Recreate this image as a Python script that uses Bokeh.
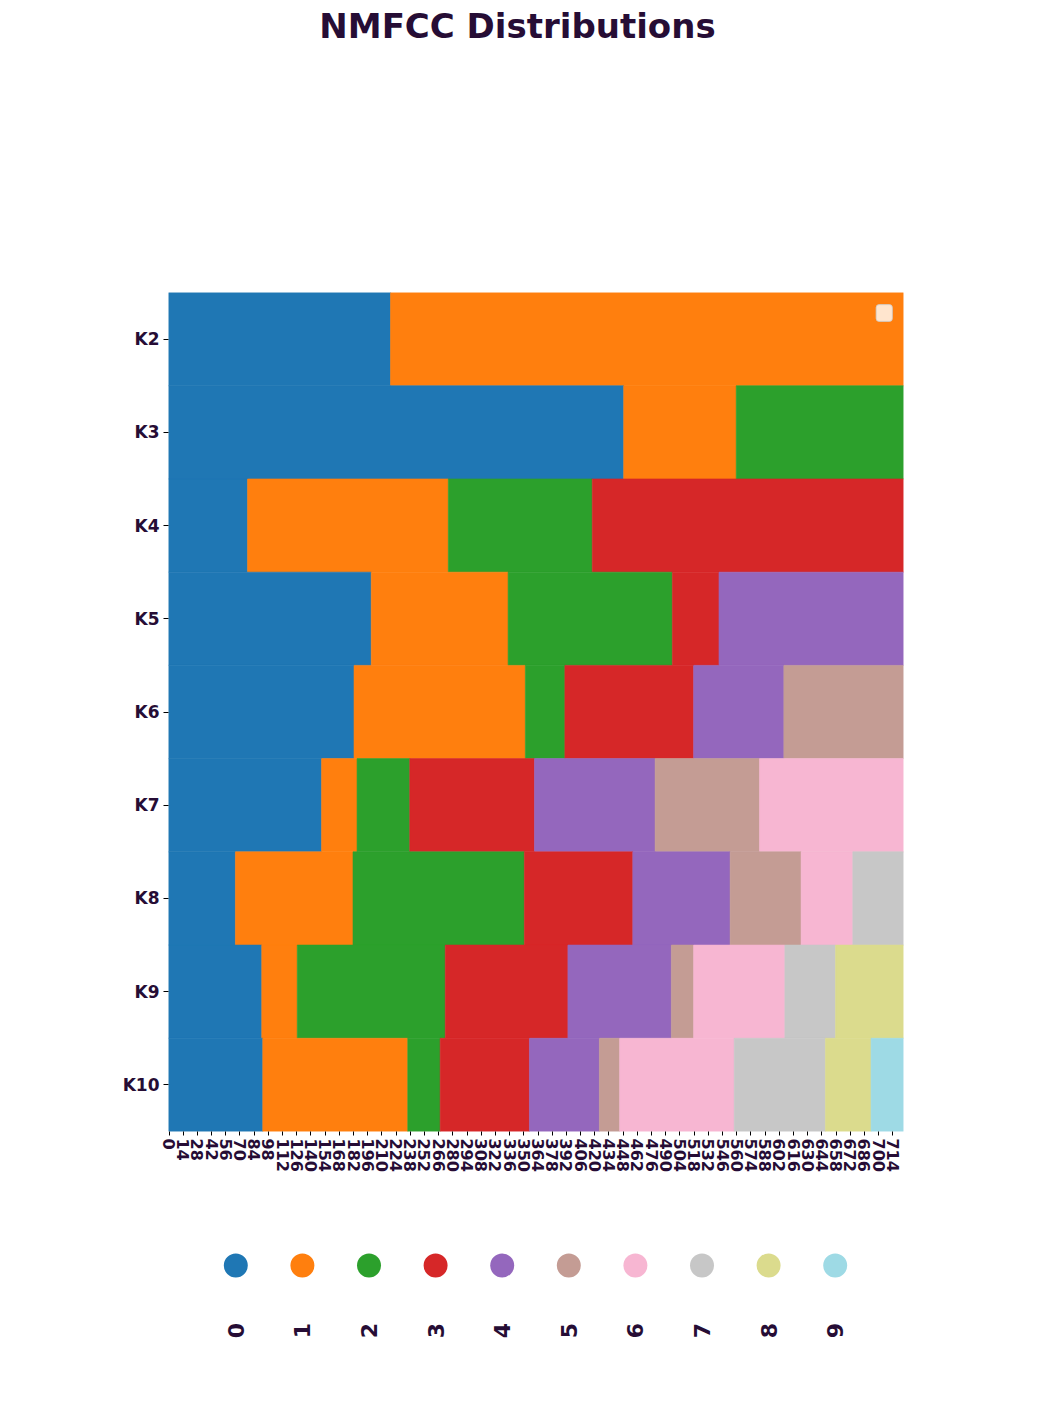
import math
from bokeh.plotting import figure
from bokeh.models import Range1d, FixedTicker, BoxAnnotation, ColumnDataSource
from bokeh.layouts import column
from bokeh.embed import file_html
from bokeh.resources import INLINE
from bokeh.core.properties import value

# ---------------- data ----------------
rows = ["K2", "K3", "K4", "K5", "K6", "K7", "K8", "K9", "K10"]
cluster_ids = [0, 1, 2, 3, 4, 5, 6, 7, 8, 9]
cluster_colors = ["#1f77b4", "#ff7f0e", "#2ca02c", "#d62728", "#9467bd",
                  "#c49c94", "#f7b6d2", "#c7c7c7", "#dbdb8d", "#9edae5"]

# number of samples in each cluster (samples sorted by cluster label)
counts_K2 = [219, 506]
counts_K3 = [449, 111, 165]
counts_K4 = [78, 198, 142, 307]
counts_K5 = [200, 135, 162, 46, 182]
counts_K6 = [183, 169, 39, 127, 89, 118]
counts_K7 = [151, 35, 52, 123, 119, 103, 142]
counts_K8 = [66, 116, 169, 107, 96, 70, 51, 50]
counts_K9 = [92, 35, 146, 121, 102, 22, 90, 50, 67]
counts_K10 = [93, 143, 32, 88, 69, 20, 113, 90, 45, 32]

x_tick_labels = list(range(0, 715, 14))

counts_by_row = [counts_K2, counts_K3, counts_K4, counts_K5, counts_K6,
                 counts_K7, counts_K8, counts_K9, counts_K10]

TEXT = "#260d35"
FONT = "DejaVu Sans"
N = sum(counts_K2)
nrows = len(rows)

BL, BR = 168, 147          # left / right borders (px) shared by all panels
FRAME_W = 1050 - BL - BR

# ---------------- title panel ----------------
p0 = figure(width=1050, height=60, x_range=Range1d(0, 1), y_range=Range1d(0, 1),
            output_backend="svg", toolbar_location=None,
            min_border_left=BL, min_border_right=BR, min_border_top=0, min_border_bottom=0)
p0.axis.visible = False
p0.grid.visible = False
p0.outline_line_color = None
TITLE_CX = 517
p0.text(x=[(TITLE_CX - BL) / FRAME_W], y=[1 - 25 / 60], text=["NMFCC Distributions"],
        text_align="center", text_baseline="middle", text_font=value(FONT),
        text_font_style="bold", text_font_size="34px", text_color=TEXT)

# ---------------- main heatmap ----------------
ys, lefts, rights, cols = [], [], [], []
for i, cnts in enumerate(counts_by_row):
    start = 0
    for k, c in enumerate(cnts):
        ys.append(nrows - i - 0.5)
        lefts.append(start)
        rights.append(start + c)
        cols.append(cluster_colors[k])
        start += c
src = ColumnDataSource(dict(y=ys, left=lefts, right=rights, color=cols))

p1 = figure(width=1050, height=1140, x_range=Range1d(0, N), y_range=Range1d(0, nrows),
            output_backend="svg", toolbar_location=None,
            min_border_left=BL, min_border_right=BR, min_border_top=232, min_border_bottom=69)
p1.hbar(y="y", left="left", right="right", height=1.0, fill_color="color",
        line_color="color", line_width=0.6, source=src)

p1.xaxis.ticker = FixedTicker(ticks=[v + 0.5 for v in x_tick_labels])
p1.xaxis.major_label_overrides = {v + 0.5: str(v) for v in x_tick_labels}
p1.xaxis.major_label_orientation = "vertical"
p1.yaxis.ticker = FixedTicker(ticks=[nrows - i - 0.5 for i in range(nrows)])
p1.yaxis.major_label_overrides = {nrows - i - 0.5: r for i, r in enumerate(rows)}

for ax, fs, tick, so in ((p1.xaxis, "16px", 4, 3), (p1.yaxis, "17px", 5, 4)):
    ax.major_label_text_font = FONT
    ax.major_label_text_font_style = "bold"
    ax.major_label_text_font_size = fs
    ax.major_label_text_color = TEXT
    ax.axis_line_color = None
    ax.major_tick_in = 0
    ax.major_tick_out = tick
    ax.major_tick_line_color = "black"
    ax.minor_tick_line_color = None
    ax.major_label_standoff = so

p1.grid.visible = False
p1.outline_line_color = None

# empty legend frame (upper right)
p1.add_layout(BoxAnnotation(left=698, right=714, bottom=8.69, top=8.87,
                            fill_color="white", fill_alpha=0.8,
                            line_color="#cccccc", line_alpha=0.8, line_width=1,
                            border_radius=3))

# ---------------- colour key ----------------
KEY_L, KEY_R = 202, 868
cell = (KEY_R - KEY_L) / len(cluster_ids)
kx_start = -(KEY_L - BL) / cell
kx_end = len(cluster_ids) + (1050 - BR - KEY_R) / cell
p2 = figure(width=1050, height=211, x_range=Range1d(kx_start, kx_end), y_range=Range1d(0, 1),
            output_backend="svg", toolbar_location=None,
            min_border_left=BL, min_border_right=BR, min_border_top=0, min_border_bottom=0)
p2.axis.visible = False
p2.grid.visible = False
p2.outline_line_color = None
kx = [c + 0.5 for c in cluster_ids]
p2.scatter(x=kx, y=[0.692] * len(kx), size=24, fill_color=cluster_colors, line_color=None)
p2.text(x=kx, y=[0.384] * len(kx), text=[str(c) for c in cluster_ids], angle=math.pi / 2,
        text_align="center", text_baseline="middle", text_font=value(FONT),
        text_font_style="bold", text_font_size="22px", text_color=TEXT)

layout = column(p0, p1, p2, spacing=0)
open("out.html", "w").write(file_html(layout, INLINE))
